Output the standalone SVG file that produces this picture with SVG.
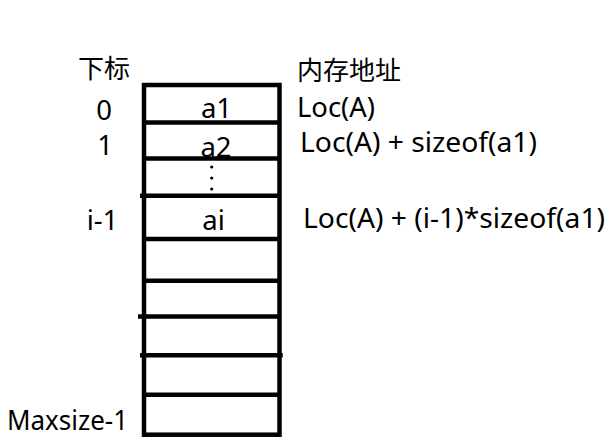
<svg xmlns="http://www.w3.org/2000/svg" width="612" height="444" viewBox="0 0 612 444">
<style>
.t{font-family:"Noto Sans","Noto Sans CJK SC",sans-serif;font-size:27.5px;fill:#000}
.c{font-family:"Noto Sans CJK SC","Noto Sans",sans-serif;font-size:26px;fill:#000}
.ln{stroke:#000;stroke-width:4.5;fill:none}
</style>
<rect width="612" height="444" fill="#fff"/>
<g id="array">
<rect class="ln" x="144" y="85" width="135.5" height="349.7"/>
<line class="ln" x1="144" y1="122.5" x2="279.5" y2="122.5"/>
<line class="ln" x1="144" y1="158.5" x2="279.5" y2="158.5"/>
<line class="ln" x1="140" y1="195.7" x2="279.5" y2="195.7"/>
<line class="ln" x1="144" y1="239" x2="279.5" y2="239"/>
<line class="ln" x1="144" y1="280.7" x2="279.5" y2="280.7"/>
<line class="ln" x1="138" y1="316.5" x2="279.5" y2="316.5"/>
<line class="ln" x1="140" y1="355.3" x2="282.7" y2="355.3"/>
<line class="ln" x1="144" y1="394.7" x2="279.5" y2="394.7"/>
</g>
<g id="cells">
<text class="t" x="216.5" y="118" text-anchor="middle">a1</text>
<text class="t" x="216" y="157" text-anchor="middle">a2</text>
<circle cx="211.7" cy="167" r="1.6"/>
<circle cx="211.7" cy="178" r="1.6"/>
<circle cx="211.7" cy="189" r="1.6"/>
<text class="t" x="213.5" y="230" text-anchor="middle">ai</text>
</g>
<g id="index-labels">
<text class="c" x="78" y="78">下标</text>
<text class="t" x="104" y="120" text-anchor="middle">0</text>
<text class="t" x="105" y="155" text-anchor="middle">1</text>
<text class="t" x="102.5" y="230" text-anchor="middle">i-1</text>
<text class="t" x="7" y="430" textLength="121" lengthAdjust="spacingAndGlyphs">Maxsize-1</text>
</g>
<g id="address-labels">
<text class="c" x="297" y="80">内存地址</text>
<text class="t" x="297" y="117" textLength="78" lengthAdjust="spacingAndGlyphs">Loc(A)</text>
<text class="t" x="300" y="152" textLength="237" lengthAdjust="spacingAndGlyphs">Loc(A) + sizeof(a1)</text>
<text class="t" x="303" y="228" textLength="302" lengthAdjust="spacingAndGlyphs">Loc(A) + (i-1)*sizeof(a1)</text>
</g>
<g id="connectors"></g>
</svg>
